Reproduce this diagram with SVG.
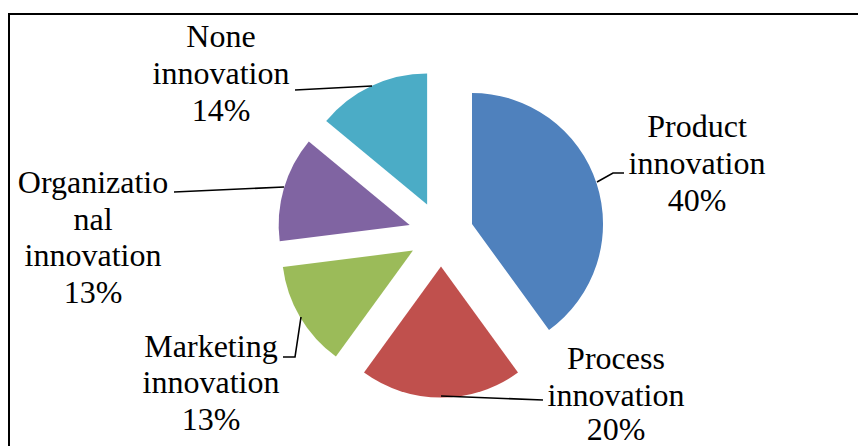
<svg xmlns="http://www.w3.org/2000/svg" width="858" height="446" viewBox="0 0 858 446">
<style>
.lbl{font-size:32px;fill:#000;text-anchor:middle}
.lead{fill:none;stroke:#000;stroke-width:1.6}
.frame{fill:none;stroke:#000;stroke-width:2}
</style>
<rect width="858" height="446" fill="#fff"/>
<path class="frame" d="M9,446 V14 H858"/>
<g id="slices">
<g id="product"><path d="M472,224 L472,93 A131,131 0 0 1 549,330 Z" fill="#4F81BD"/></g>
<g id="process"><path d="M441,266.6 L518,372.6 A131,131 0 0 1 364,372.6 Z" fill="#C0504D"/></g>
<g id="marketing"><path d="M412.9,250.6 L335.9,356.6 A131,131 0 0 1 282.9,267 Z" fill="#9BBB59"/></g>
<g id="organizational"><path d="M409.7,224.9 L279.7,241.3 A131,131 0 0 1 308.8,141.4 Z" fill="#8064A2"/></g>
<g id="none"><path d="M427.1,204.5 L326.2,121 A131,131 0 0 1 427.1,73.5 Z" fill="#4BACC6"/></g>
</g>
<g id="connectors">
<path class="lead" d="M295,90 L372,86"/>
<path class="lead" d="M597,182 L613,173 H624"/>
<path class="lead" d="M174,192 L284,187"/>
<path class="lead" d="M301,317 L295,357 H283"/>
<path class="lead" d="M441,396 L543,400"/>
</g>
<g font-family="Liberation Serif, DejaVu Serif, serif">
<g id="label-none"><text class="lbl" x="221" y="47">None</text><text class="lbl" x="221" y="84">innovation</text><text class="lbl" x="221" y="121">14%</text></g>
<g id="label-product"><text class="lbl" x="697" y="137">Product</text><text class="lbl" x="697" y="174">innovation</text><text class="lbl" x="697" y="211">40%</text></g>
<g id="label-organizational"><text class="lbl" x="93" y="193">Organizatio</text><text class="lbl" x="93" y="230">nal</text><text class="lbl" x="93" y="266">innovation</text><text class="lbl" x="93" y="303">13%</text></g>
<g id="label-marketing"><text class="lbl" x="211" y="357">Marketing</text><text class="lbl" x="211" y="393">innovation</text><text class="lbl" x="211" y="430">13%</text></g>
<g id="label-process"><text class="lbl" x="616" y="369">Process</text><text class="lbl" x="616" y="406">innovation</text><text class="lbl" x="616" y="440">20%</text></g>
</g>
</svg>
